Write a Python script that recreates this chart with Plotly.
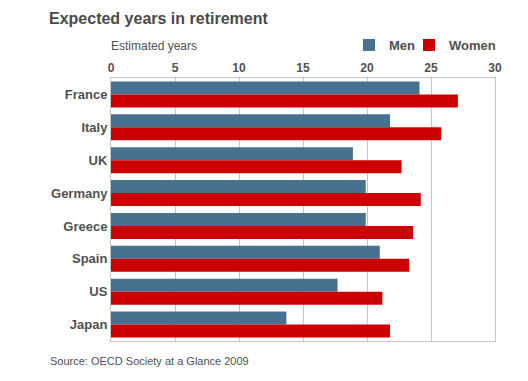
import plotly.graph_objects as go

countries = ["France", "Italy", "UK", "Germany", "Greece", "Spain", "US", "Japan"]
men = [24.1, 21.8, 18.9, 19.9, 19.9, 21.0, 17.7, 13.7]
women = [27.1, 25.8, 22.7, 24.2, 23.6, 23.3, 21.2, 21.8]
x_ticks = [0, 5, 10, 15, 20, 25, 30]

W, H = 528, 381
L, R, T, B = 111, 495, 78, 341
FONT = "Liberation Sans, Arial, sans-serif"
TXT = "#505050"
GRID = "#c4c4c4"


def px_x(p):
    return (p - L) / (R - L)


def px_y(p):
    return (B - p) / (B - T)


fig = go.Figure()
fig.add_trace(go.Bar(y=countries, x=men, name="<b>Men</b>", orientation="h", legend="legend",
                     showlegend=True, marker=dict(color="#48708f", line=dict(width=0))))
fig.add_trace(go.Bar(y=countries, x=women, name="<b>Women</b>", orientation="h", legend="legend2",
                     showlegend=True, marker=dict(color="#cc0000", line=dict(width=0))))

leg = dict(orientation="h", yanchor="middle", y=px_y(45), xanchor="left",
           font=dict(size=13, color=TXT, family=FONT), itemwidth=30,
           bgcolor="rgba(0,0,0,0)")

fig.update_layout(
    width=W, height=H, showlegend=True,
    margin=dict(l=L, r=W - R, t=T, b=H - B, pad=0),
    paper_bgcolor="white", plot_bgcolor="white",
    barmode="group", bargap=0.21, bargroupgap=0,
    font=dict(family=FONT, color=TXT),
    title=dict(text="<b>Expected years in retirement</b>", x=49 / W, xanchor="left",
               xref="container", y=1 - 18 / H, yref="container", yanchor="middle",
               font=dict(size=16, color="#4a4a4a", family=FONT)),
    legend=dict(leg, x=px_x(349)),
    legend2=dict(leg, x=px_x(409)),
    xaxis=dict(range=[0, 30], side="top", tickvals=x_ticks,
               ticktext=[f"<b>{v}</b>" for v in x_ticks],
               tickfont=dict(size=12, color=TXT, family=FONT),
               showgrid=True, gridcolor=GRID, gridwidth=1,
               showline=True, linecolor=GRID, linewidth=1, mirror=True,
               zeroline=False, ticks="", fixedrange=True),
    yaxis=dict(autorange="reversed", showgrid=False,
               showline=True, linecolor=GRID, linewidth=1, mirror=True,
               tickvals=countries, ticktext=[f"<b>{c}</b>" for c in countries],
               tickfont=dict(size=13, color=TXT, family=FONT),
               ticks="", fixedrange=True),
    annotations=[
        dict(text="Estimated years", xref="paper", yref="paper", x=px_x(109), xanchor="left",
             y=px_y(45.5), yanchor="middle", showarrow=False,
             font=dict(size=12, color=TXT, family=FONT)),
        dict(text="Source: OECD Society at a Glance 2009", xref="paper", yref="paper",
             x=px_x(48), xanchor="left", y=px_y(361), yanchor="middle",
             showarrow=False, font=dict(size=11, color=TXT, family=FONT)),
    ],
)

fig.write_html("out.html", config={"displayModeBar": False},
               post_script="document.body.style.margin='0px';")
